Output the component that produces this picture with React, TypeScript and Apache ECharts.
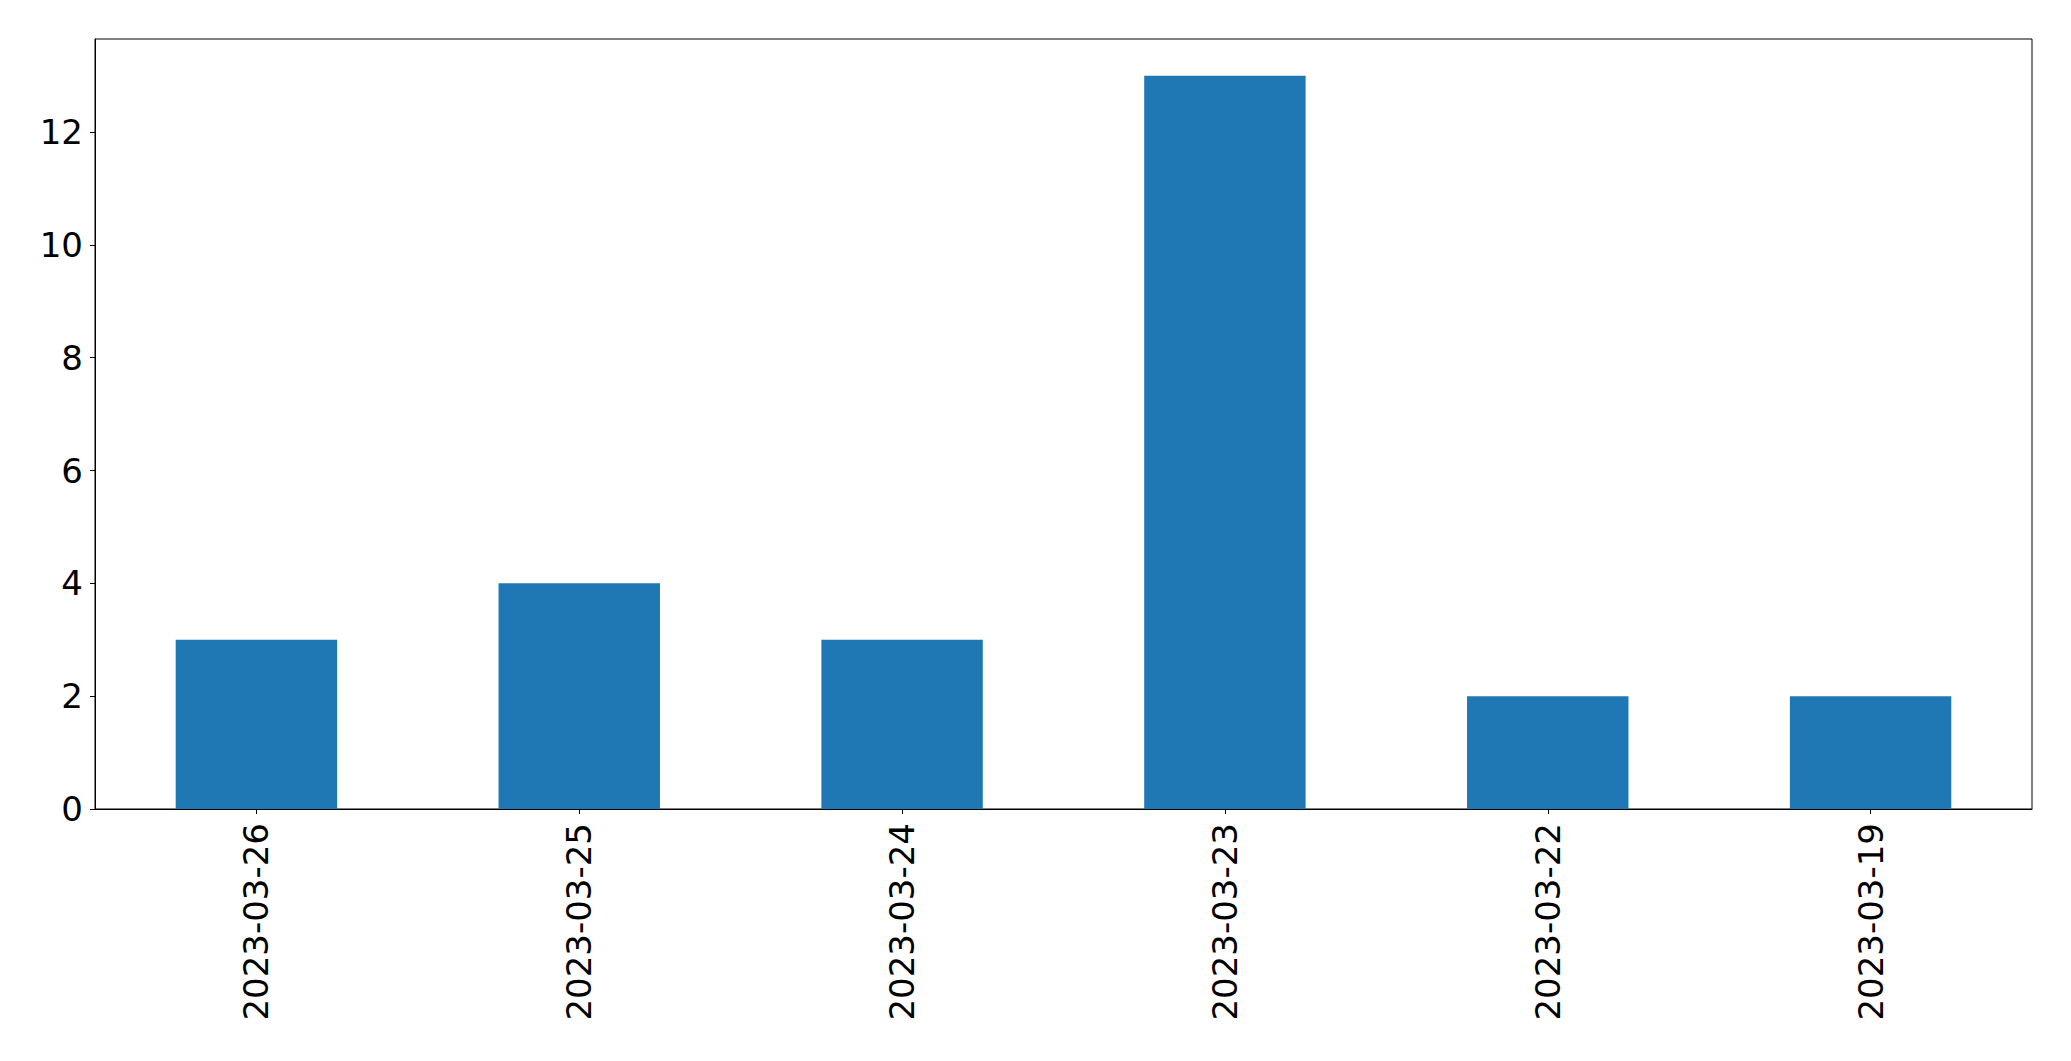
import React, { useEffect, useRef } from "react";
import * as echarts from "echarts";

const categories = ["2023-03-26", "2023-03-25", "2023-03-24", "2023-03-23", "2023-03-22", "2023-03-19"];
const counts = [3, 4, 3, 13, 2, 2];
const yTicks = [0, 2, 4, 6, 8, 10, 12];

export default function App() {
  const ref = useRef<HTMLDivElement>(null);
  useEffect(() => {
    document.body.style.margin = "0";
    const chart = echarts.init(ref.current!, null, { renderer: "svg" });
    const font = "DejaVu Sans";
    chart.setOption({
      animation: false,
      backgroundColor: "#ffffff",
      grid: {
        left: 95,
        right: 39,
        top: 39,
        bottom: 252,
        show: true,
        borderColor: "#000000",
        borderWidth: 1,
        containLabel: false,
      },
      xAxis: {
        type: "category",
        data: categories,
        axisLine: { show: true, lineStyle: { color: "#000000", width: 1 } },
        axisTick: { show: true, alignWithLabel: true, length: 5, lineStyle: { color: "#000000", width: 1 } },
        axisLabel: { rotate: 90, fontSize: 34, color: "#000000", fontFamily: font, margin: 14 },
        splitLine: { show: false },
      },
      yAxis: {
        type: "value",
        min: 0,
        max: 13.65,
        interval: 2,
        axisLine: { show: true, lineStyle: { color: "#000000", width: 1 } },
        axisTick: { show: true, length: 5, lineStyle: { color: "#000000", width: 1 }, customValues: yTicks },
        axisLabel: { fontSize: 34, color: "#000000", fontFamily: font, margin: 12, customValues: yTicks },
        splitLine: { show: false },
      },
      series: [
        {
          type: "bar",
          data: counts,
          barWidth: "50%",
          itemStyle: { color: "#1f77b4" },
        },
      ],
    });
    return () => chart.dispose();
  }, []);
  return <div ref={ref} style={{ width: 2071, height: 1061, position: "absolute", left: 0, top: 0 }} />;
}
